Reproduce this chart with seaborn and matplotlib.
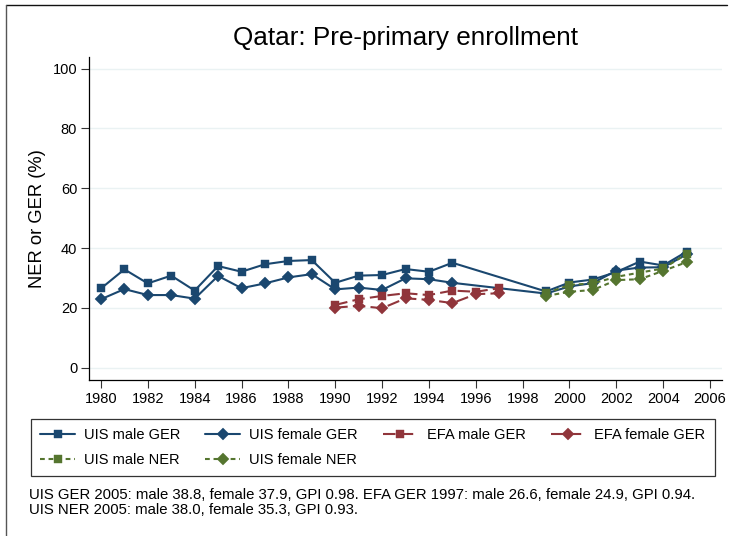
import matplotlib
matplotlib.use("Agg")
import matplotlib.pyplot as plt
from matplotlib.lines import Line2D
import seaborn as sns
import pandas as pd

# ---- data ----
years_uis = [1980, 1981, 1982, 1983, 1984, 1985, 1986, 1987, 1988, 1989,
             1990, 1991, 1992, 1993, 1994, 1995,
             1999, 2000, 2001, 2002, 2003, 2004, 2005]
uis_male_ger = [26.5, 32.9, 28.2, 30.8, 25.8, 34.0, 32.1, 34.6, 35.7, 36.0,
                28.4, 30.8, 31.0, 33.0, 32.1, 35.1,
                25.5, 28.5, 29.5, 32.0, 35.5, 34.2, 38.8]
uis_female_ger = [22.9, 26.3, 24.3, 24.3, 23.1, 30.7, 26.6, 28.2, 30.2, 31.3,
                  26.2, 26.8, 26.0, 29.9, 29.6, 28.4,
                  24.8, 27.2, 28.3, 32.5, 33.5, 33.6, 37.9]
years_efa = [1990, 1991, 1992, 1993, 1994, 1995, 1996, 1997]
efa_male_ger = [21.0, 22.9, 24.0, 24.9, 24.3, 25.8, 25.4, 26.6]
efa_female_ger = [20.1, 20.7, 19.9, 23.2, 22.7, 21.6, 24.6, 24.9]
years_ner = [1999, 2000, 2001, 2002, 2003, 2004, 2005]
uis_male_ner = [24.9, 27.7, 28.2, 30.4, 31.8, 33.2, 38.0]
uis_female_ner = [24.0, 25.4, 26.0, 29.3, 29.6, 32.4, 35.3]

x_ticks = list(range(1980, 2007, 2))
y_ticks = [0, 20, 40, 60, 80, 100]

title = "Qatar: Pre-primary enrollment"
ylabel = "NER or GER (%)"
footnote = ("UIS GER 2005: male 38.8, female 37.9, GPI 0.98. EFA GER 1997: male 26.6, female 24.9, GPI 0.94.\n"
            "UIS NER 2005: male 38.0, female 35.3, GPI 0.93.")

# ---- style ----
sns.set_theme(style="white")
plt.rcParams["font.family"] = ["Liberation Sans", "DejaVu Sans"]

NAVY = "#1a476f"
MAROON = "#90353b"
GREEN = "#55752f"

W, H = 731, 536
fig = plt.figure(figsize=(W / 100, H / 100), dpi=100)
ax = fig.add_axes([89 / W, 1 - 380 / H, (722 - 89) / W, (380 - 57) / H])

series = [
    ("UIS male GER", years_uis, uis_male_ger, NAVY, "s", "-"),
    ("UIS female GER", years_uis, uis_female_ger, NAVY, "D", "-"),
    ("EFA male GER", years_efa, efa_male_ger, MAROON, "s", (0, (6, 2.5))),
    ("EFA female GER", years_efa, efa_female_ger, MAROON, "D", (0, (6, 2.5))),
    ("UIS male NER", years_ner, uis_male_ner, GREEN, "s", (0, (2.3, 1.8))),
    ("UIS female NER", years_ner, uis_female_ner, GREEN, "D", (0, (2.3, 1.8))),
]

handles = {}
for name, xs, ys, col, mk, ls in series:
    df = pd.DataFrame({"year": xs, "value": ys})
    ms = 6.3 if mk == "s" else 6.0
    sns.lineplot(data=df, x="year", y="value", ax=ax, color=col, marker=mk,
                 markersize=ms, markeredgecolor=col, markeredgewidth=0.3,
                 linewidth=1.5, linestyle=ls, label=name, errorbar=None)
    handles[name] = ax.get_lines()[-1]

if ax.get_legend() is not None:
    ax.get_legend().remove()

ax.set_xlim(1979.49, 2006.51)
ax.set_ylim(-4.1, 103.9)
ax.set_xticks(x_ticks)
ax.set_yticks(y_ticks)
ax.set_xticklabels([str(t) for t in x_ticks])
ax.set_yticklabels([str(t) for t in y_ticks])
ax.grid(axis="y", color="#eaf2f3", linewidth=1.0)
ax.grid(axis="x", visible=False)
ax.set_axisbelow(True)
for s in ["top", "right"]:
    ax.spines[s].set_visible(False)
for s in ["left", "bottom"]:
    ax.spines[s].set_color("black")
    ax.spines[s].set_linewidth(0.9)
ax.tick_params(axis="both", which="major", direction="out", length=5.5, width=0.8,
               color="#333333", labelsize=10.5, labelcolor="black", pad=3,
               left=True, bottom=True)
ax.set_xlabel("")
ax.set_ylabel(ylabel, fontsize=13.2, color="black", va="center")
ax.yaxis.set_label_coords((37 - 89) / (722 - 89), 0.5)
ax.set_title(title, fontsize=18.8, color="black", pad=8.6)

order = ["UIS male GER", "UIS male NER", "UIS female GER", "UIS female NER",
         "EFA male GER", "EFA female GER"]
leg = fig.legend([handles[n] for n in order], order, ncol=4, mode="expand",
                 loc="center left",
                 bbox_to_anchor=(30.7 / W, 1 - 478 / H, (715 - 30.7) / W, (478 - 417) / H),
                 bbox_transform=fig.transFigure, fontsize=10.5, frameon=True,
                 fancybox=False, shadow=False, framealpha=1, edgecolor="#333333",
                 borderpad=0.66, labelspacing=0.72, handlelength=2.4,
                 handletextpad=0.6, borderaxespad=0, numpoints=1)
leg.get_frame().set_linewidth(0.9)
for t in leg.get_texts():
    t.set_color("black")

fig.text(29 / W, 1 - 488 / H, footnote, fontsize=10.7, color="black",
         ha="left", va="top", linespacing=1.12)

# outer frame lines
fig.add_artist(Line2D([6 / W, 727 / W], [1 - 5 / H, 1 - 5 / H], transform=fig.transFigure,
                      color="#111111", linewidth=1.0))
fig.add_artist(Line2D([6 / W, 6 / W], [1 - 5 / H, 0], transform=fig.transFigure,
                      color="#555555", linewidth=1.0))

fig.savefig("out.png", dpi=100, facecolor="white")
